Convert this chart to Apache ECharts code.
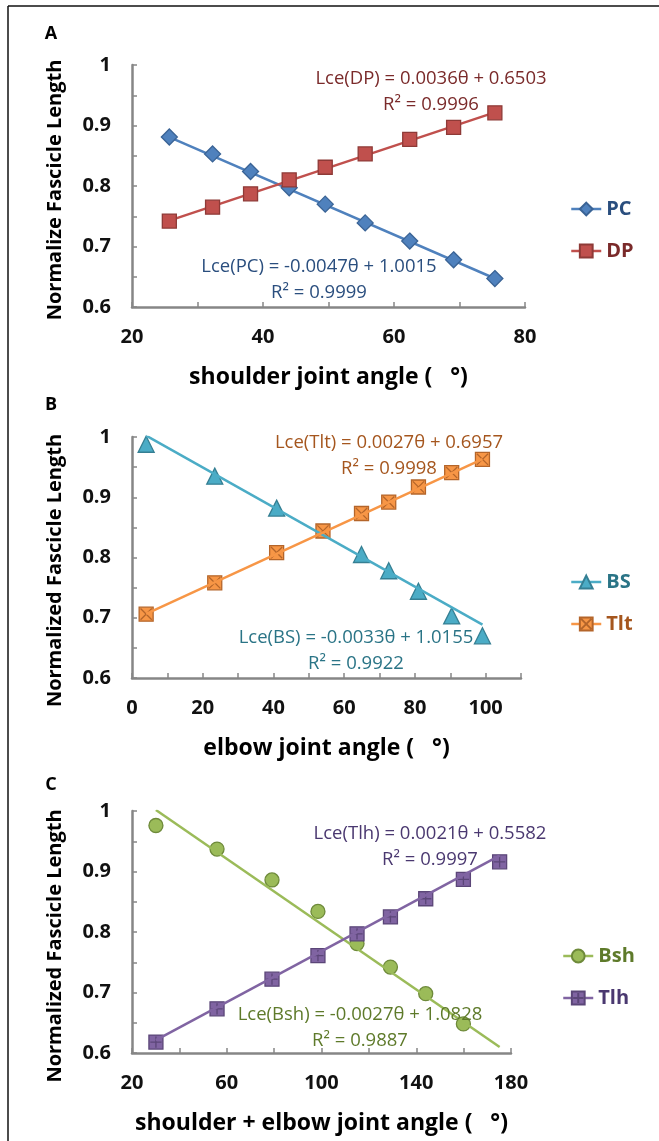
<!DOCTYPE html>
<html>
<head>
<meta charset="utf-8">
<title>Normalized fascicle length vs joint angle</title>
<script src="https://cdn.jsdelivr.net/npm/echarts@6/dist/echarts.min.js"></script>
<style>
  html, body { margin: 0; padding: 0; background: #ffffff; }
  #chart { width: 659px; height: 1141px; }
</style>
</head>
<body>
<div id="chart"></div>
<script>
// ---- Panel A: shoulder muscles ----
const shoulderAngle = [25.7, 32.3, 38.1, 44.0, 49.5, 55.6, 62.4, 69.1, 75.4];
const pcLength      = [0.881, 0.853, 0.824, 0.797, 0.770, 0.739, 0.709, 0.678, 0.647];
const dpLength      = [0.742, 0.765, 0.787, 0.810, 0.831, 0.853, 0.877, 0.897, 0.921];

// ---- Panel B: elbow muscles (BS at 54° sits under the Tlt marker) ----
const elbowAngle = [4.0, 23.4, 40.9, 54.0, 64.9, 72.6, 81.0, 90.4, 99.1];
const bsLength   = [0.988, 0.935, 0.882, null, 0.805, 0.778, 0.744, 0.703, 0.670];
const tltLength  = [0.706, 0.758, 0.808, 0.844, 0.873, 0.892, 0.917, 0.941, 0.963];

// ---- Panel C: biarticular muscles (last Bsh value falls below the axis) ----
const combinedAngle = [30.1, 55.9, 79.1, 98.5, 115.0, 129.1, 144.0, 159.9, 175.2];
const bshLength     = [0.976, 0.937, 0.886, 0.834, 0.781, 0.742, 0.698, 0.648, null];
const tlhLength     = [0.618, 0.673, 0.722, 0.761, 0.797, 0.825, 0.855, 0.887, 0.916];

// Linear fits as printed beside each series: [slope, intercept, R²]
const pcFit  = [-0.0047, 1.0015, 0.9999];
const dpFit  = [ 0.0036, 0.6503, 0.9996];
const bsFit  = [-0.0033, 1.0155, 0.9922];
const tltFit = [ 0.0027, 0.6957, 0.9998];
const bshFit = [-0.0027, 1.0828, 0.9887];
const tlhFit = [ 0.0021, 0.5582, 0.9997];

// Tick labels shown on each axis (other ticks are minor, unlabeled)
const yTickLabels  = [0.6, 0.7, 0.8, 0.9, 1];
const xTickLabelsA = [20, 40, 60, 80];
const xTickLabelsB = [0, 20, 40, 60, 80, 100];
const xTickLabelsC = [20, 60, 100, 140, 180];

const FONT = '"Open Sans", Lato, "Liberation Sans", sans-serif';
const AXIS_GRAY = '#868686';

const colors = {
  PC:  { fill: '#4F81BD', border: '#3A6395', text: '#2A4E7E' },
  DP:  { fill: '#C0504D', border: '#8E3A37', text: '#7A2A2A' },
  BS:  { fill: '#4BACC6', border: '#357F93', text: '#2A7486' },
  Tlt: { fill: '#F79646', border: '#B4652A', text: '#A5561E' },
  Bsh: { fill: '#9BBB59', border: '#6E8A3A', text: '#5E7A2A' },
  Tlh: { fill: '#8064A2', border: '#5B4678', text: '#4A3870' }
};

const grids = [
  { left: 132, top: 65,  width: 393, height: 242 },
  { left: 132, top: 437, width: 389, height: 241 },
  { left: 132, top: 811, width: 379, height: 242 }
];

function pickLabel(list) {
  return function (v) {
    const hit = list.find(function (l) { return Math.abs(l - v) < 1e-6; });
    return hit === undefined ? '' : String(hit);
  };
}

function makeXAxis(idx, min, max, step, labels, name) {
  return {
    type: 'value', gridIndex: idx, min: min, max: max, interval: step,
    name: name, nameLocation: 'middle', nameGap: 59,
    nameTextStyle: { fontFamily: FONT, fontWeight: 'bold', fontSize: 23, color: '#000' },
    axisLine: { show: true, onZero: false, lineStyle: { color: AXIS_GRAY, width: 2.5 } },
    axisTick: { show: true, inside: true, length: 5, lineStyle: { color: AXIS_GRAY, width: 1.5 } },
    axisLabel: { formatter: pickLabel(labels), margin: 20, fontFamily: FONT, fontWeight: 'bold', fontSize: 20, color: '#111' },
    splitLine: { show: false }
  };
}

// shift moves the rotated title down along the axis
function makeYAxis(idx, name, shift) {
  return {
    type: 'value', gridIndex: idx, min: 0.6, max: 1, interval: 0.05,
    name: name, nameLocation: 'middle', nameGap: 67,
    nameTextStyle: { fontFamily: FONT, fontWeight: 'bold', fontSize: 20, color: '#000', padding: [0, shift * 2, 0, 0] },
    axisLine: { show: true, onZero: false, lineStyle: { color: AXIS_GRAY, width: 2.5 } },
    axisTick: { show: true, inside: true, length: 5, lineStyle: { color: AXIS_GRAY, width: 1.5 } },
    axisLabel: { formatter: pickLabel(yTickLabels), margin: 21, fontFamily: FONT, fontWeight: 'bold', fontSize: 20, color: '#111' },
    splitLine: { show: false }
  };
}

function pairs(xs, ys) {
  const out = [];
  xs.forEach(function (x, i) { if (ys[i] !== null) out.push([x, ys[i]]); });
  return out;
}

function pointSeries(name, idx, xs, ys, symbol, size) {
  const c = colors[name];
  return {
    name: name, type: 'line', xAxisIndex: idx, yAxisIndex: idx,
    data: pairs(xs, ys),
    symbol: symbol, symbolSize: size, showSymbol: true, clip: true,
    itemStyle: { color: c.fill, borderColor: c.border, borderWidth: 1.3 },
    lineStyle: { color: c.fill, opacity: 0 },
    emphasis: { disabled: true },
    z: 3
  };
}

// trend line drawn from the printed slope / intercept over the sampled angle range
function fitSeries(name, idx, xs, fit, z) {
  const lo = Math.min.apply(null, xs), hi = Math.max.apply(null, xs);
  return {
    name: name + ' fit', type: 'line', xAxisIndex: idx, yAxisIndex: idx,
    data: [[lo, fit[0] * lo + fit[1]], [hi, fit[0] * hi + fit[1]]],
    symbol: 'none', silent: true, clip: true,
    lineStyle: { color: colors[name].fill, width: 2.5 },
    emphasis: { disabled: true },
    z: z
  };
}

function eqText(name, fit) {
  const slope = fit[0].toFixed(4);
  return 'Lce(' + name + ') = ' + slope + 'θ + ' + fit[1].toFixed(4) + '\nR² = ' + fit[2].toFixed(4);
}

function eqLabel(name, fit, x, y) {
  return {
    type: 'text', x: x, y: y, z: 10,
    style: {
      text: eqText(name, fit), fill: colors[name].text,
      font: '18.5px ' + FONT, lineHeight: 26,
      align: 'center', verticalAlign: 'top'
    }
  };
}

function legendFor(names, left, top) {
  return {
    orient: 'vertical', left: left, top: top,
    itemWidth: 30, itemHeight: 16, itemGap: 22,
    data: names.map(function (n) {
      return { name: n, textStyle: { color: colors[n].text } };
    }),
    textStyle: { fontFamily: FONT, fontWeight: 'bold', fontSize: 20 },
    lineStyle: { opacity: 1, width: 2.5 },
    selectedMode: false
  };
}

function panelLetter(letter, y) {
  return {
    type: 'text', x: 51, y: y, z: 10,
    style: { text: letter, font: 'bold 18px ' + FONT, fill: '#000', align: 'center', verticalAlign: 'middle' }
  };
}

const tltSymbol = 'path://M0,0H10V10H0Z M1,1L9,9 M9,1L1,9';
const tlhSymbol = 'path://M0,0H10V10H0Z M5,1V9 M1,5H9';

const option = {
  backgroundColor: '#ffffff',
  animation: false,
  grid: grids,
  xAxis: [
    makeXAxis(0, 20, 80, 10, xTickLabelsA, 'shoulder joint angle (   °)'),
    makeXAxis(1, 0, 110, 10, xTickLabelsB, 'elbow joint angle (   °)'),
    makeXAxis(2, 20, 180, 20, xTickLabelsC, 'shoulder + elbow joint angle (   °)')
  ],
  yAxis: [
    makeYAxis(0, 'Normalize Fascicle Length', 4),
    makeYAxis(1, 'Normalized Fascicle Length', 13),
    makeYAxis(2, 'Normalized Fascicle Length', 14)
  ],
  legend: [
    legendFor(['PC', 'DP'], 565, 194),
    legendFor(['BS', 'Tlt'], 565, 567),
    legendFor(['Bsh', 'Tlh'], 557, 941)
  ],
  series: [
    fitSeries('PC', 0, shoulderAngle, pcFit, 2),
    fitSeries('DP', 0, shoulderAngle, dpFit, 2),
    pointSeries('PC', 0, shoulderAngle, pcLength, 'diamond', 16),
    pointSeries('DP', 0, shoulderAngle, dpLength, 'rect', 14),

    pointSeries('BS', 1, elbowAngle, bsLength, 'triangle', 16),
    pointSeries('Tlt', 1, elbowAngle, tltLength, tltSymbol, 14),
    fitSeries('BS', 1, elbowAngle, bsFit, 4),
    fitSeries('Tlt', 1, elbowAngle, tltFit, 4),

    pointSeries('Bsh', 2, combinedAngle, bshLength, 'circle', 14),
    pointSeries('Tlh', 2, combinedAngle, tlhLength, tlhSymbol, 14),
    fitSeries('Bsh', 2, combinedAngle, bshFit, 4),
    fitSeries('Tlh', 2, combinedAngle, tlhFit, 4)
  ],
  graphic: [
    // frame edges along the top and left side
    { type: 'line', z: 20, shape: { x1: 8, y1: 6, x2: 659, y2: 6 }, style: { stroke: '#111', lineWidth: 1.5 } },
    { type: 'line', z: 20, shape: { x1: 8, y1: 6, x2: 8, y2: 1141 }, style: { stroke: '#111', lineWidth: 1.5 } },
    panelLetter('A', 34),
    panelLetter('B', 405),
    panelLetter('C', 785),
    eqLabel('DP', dpFit, 431, 66),
    eqLabel('PC', pcFit, 319, 254),
    eqLabel('Tlt', tltFit, 389, 430),
    eqLabel('BS', bsFit, 356, 625),
    eqLabel('Tlh', tlhFit, 430, 821),
    eqLabel('Bsh', bshFit, 360, 1002)
  ]
};

const chart = echarts.init(document.getElementById('chart'), null, { renderer: 'canvas' });
chart.setOption(option);
</script>
</body>
</html>
